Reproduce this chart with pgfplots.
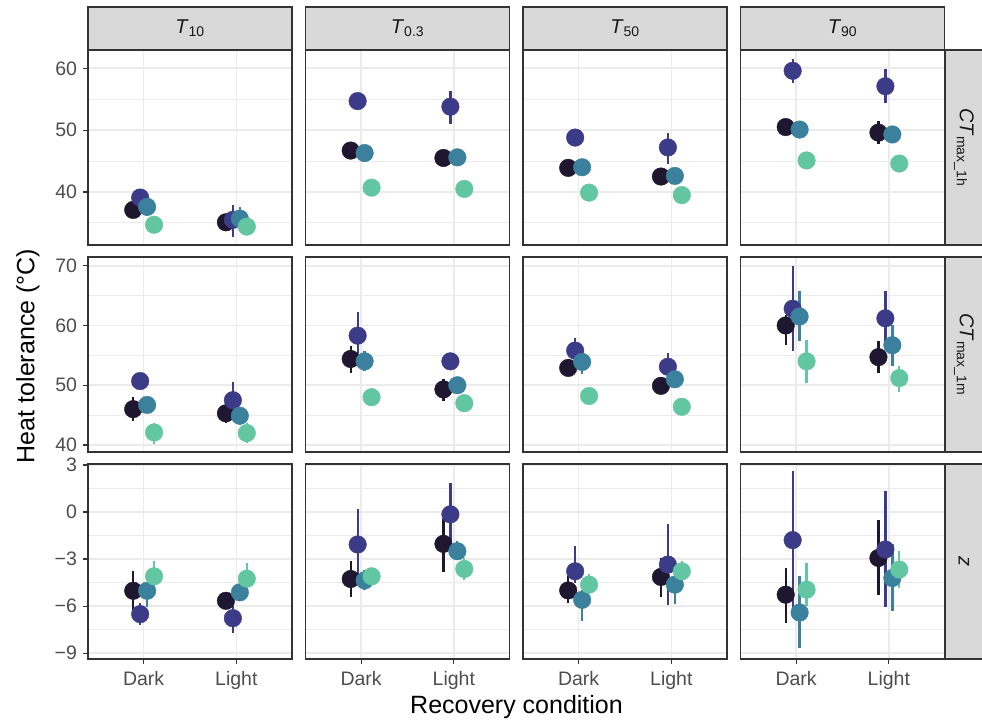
\documentclass[border=0pt]{standalone}
\usepackage{pgfplots}
\usepackage{pgfplotstable}
\usepackage{fontspec}
\pgfplotsset{compat=1.18}
\setmainfont{Liberation Sans}

\definecolor{g1}{HTML}{1F1630}
\definecolor{g2}{HTML}{3C3B87}
\definecolor{g3}{HTML}{3B819D}
\definecolor{g4}{HTML}{62C6A2}
\definecolor{frame}{HTML}{333333}
\definecolor{gridc}{HTML}{EBEBEB}
\definecolor{tickc}{HTML}{4D4D4D}
\definecolor{stripc}{HTML}{D9D9D9}

% columns: c = condition (1 Dark, 2 Light); for each group k: yk = estimate, lk/hk = interval
% row A: CT_max_1h
\pgfplotstableread{
c  y1    l1    h1    y2    l2    h2    y3    l3    h3    y4    l4    h4
1  37.1  36.6  37.6  39.1  38.6  39.7  37.6  36.1  38.2  34.7  34.4  35.0
2  35.1  34.7  35.5  35.5  32.8  37.9  35.7  34.5  37.5  34.4  34.1  34.7
}\tAa
\pgfplotstableread{
c  y1    l1    h1    y2    l2    h2    y3    l3    h3    y4    l4    h4
1  46.7  46.2  47.2  54.7  54.2  55.2  46.3  45.9  46.8  40.7  40.4  41.0
2  45.5  44.4  46.1  53.8  51.0  56.4  45.6  45.2  46.0  40.5  40.2  40.8
}\tAb
\pgfplotstableread{
c  y1    l1    h1    y2    l2    h2    y3    l3    h3    y4    l4    h4
1  43.9  43.5  44.3  48.8  48.4  49.2  44.0  43.6  44.4  39.9  39.6  40.2
2  42.5  41.9  43.1  47.2  44.5  49.6  42.6  42.2  43.0  39.5  39.2  39.8
}\tAc
\pgfplotstableread{
c  y1    l1    h1    y2    l2    h2    y3    l3    h3    y4    l4    h4
1  50.5  50.0  51.0  59.6  57.7  61.5  50.1  49.7  50.5  45.1  44.8  45.4
2  49.6  47.7  51.5  57.1  54.4  59.9  49.3  48.9  49.7  44.6  44.3  44.9
}\tAd
% row B: CT_max_1m
\pgfplotstableread{
c  y1    l1    h1    y2    l2    h2    y3    l3    h3    y4    l4    h4
1  46.0  44.0  48.0  50.7  50.2  51.2  46.7  46.2  47.2  42.1  40.2  43.7
2  45.3  43.7  46.9  47.5  45.8  50.6  44.9  43.4  46.2  42.0  40.4  43.6
}\tBa
\pgfplotstableread{
c  y1    l1    h1    y2    l2    h2    y3    l3    h3    y4    l4    h4
1  54.4  52.1  56.5  58.3  54.1  62.3  54.0  52.4  55.8  48.0  47.6  48.4
2  49.3  47.4  51.1  54.0  53.6  54.4  50.0  49.6  50.4  47.0  46.6  47.4
}\tBb
\pgfplotstableread{
c  y1    l1    h1    y2    l2    h2    y3    l3    h3    y4    l4    h4
1  52.9  52.5  53.3  55.8  54.5  57.9  53.9  51.9  55.0  48.2  47.8  48.6
2  49.9  49.5  50.3  53.1  51.5  55.4  51.0  49.8  52.0  46.4  46.0  46.8
}\tBc
\pgfplotstableread{
c  y1    l1    h1    y2    l2    h2    y3    l3    h3    y4    l4    h4
1  60.0  56.8  61.7  62.8  55.8  69.9  61.5  57.4  65.7  54.0  50.4  57.5
2  54.7  52.1  57.4  61.2  57.0  65.7  56.7  53.3  60.0  51.2  48.9  53.3
}\tBd
% row C: z
\pgfplotstableread{
c  y1     l1     h1     y2     l2     h2     y3     l3     h3     y4     l4     h4
1  -5.02  -6.24  -3.78  -6.51  -7.20  -5.80  -5.02  -6.06  -4.50  -4.10  -4.74  -3.14
2  -5.66  -6.00  -5.30  -6.77  -7.73  -6.00  -5.12  -5.60  -4.70  -4.25  -4.70  -3.25
}\tCa
\pgfplotstableread{
c  y1     l1     h1     y2     l2     h2     y3     l3     h3     y4     l4     h4
1  -4.27  -5.42  -3.14  -2.07  -4.50   0.21  -4.36  -4.95  -3.67  -4.10  -4.50  -3.70
2  -2.03  -3.82  -0.47  -0.15  -2.30   1.88  -2.50  -3.03  -1.82  -3.63  -4.31  -2.93
}\tCb
\pgfplotstableread{
c  y1     l1     h1     y2     l2     h2     y3     l3     h3     y4     l4     h4
1  -5.00  -5.80  -4.10  -3.78  -4.50  -2.18  -5.60  -6.94  -5.00  -4.63  -5.10  -3.95
2  -4.14  -5.42  -2.93  -3.35  -5.92  -0.79  -4.63  -5.85  -4.00  -3.78  -4.85  -3.14
}\tCc
\pgfplotstableread{
c  y1     l1     h1     y2     l2     h2     y3     l3     h3     y4     l4     h4
1  -5.27  -7.05  -3.57  -1.79  -6.30   2.63  -6.41  -8.69  -4.06  -4.95  -6.00  -3.25
2  -2.93  -5.27  -0.51  -2.39  -6.06   1.35  -4.21  -6.34  -2.07  -3.67  -4.85  -2.50
}\tCd

% intervals first, then the points on top; groups dodged around each condition
\newcommand{\pts}[1]{%
  \pgfplotsinvokeforeach{1,2,3,4}{%
    \addplot[draw=none, mark=none,
      error bars/.cd, y dir=both, y explicit, error mark=none,
      error bar style={draw=g##1, line width=2.3pt}]
      table[x expr=\thisrow{c}+0.075*(##1-2.5), y=y##1,
            y error plus expr=\thisrow{h##1}-\thisrow{y##1},
            y error minus expr=\thisrow{y##1}-\thisrow{l##1}]{#1};
  }%
  \pgfplotsinvokeforeach{1,2,3,4}{%
    \addplot[only marks, mark=*, mark size=8.8pt, color=g##1, mark options={draw=none, fill=g##1}]
      table[x expr=\thisrow{c}+0.075*(##1-2.5), y=y##1]{#1};
  }%
}

\pgfplotsset{
  panel/.style={
    scale only axis, width=204pt, height=195pt, anchor=south west,
    xmin=0.4, xmax=2.6, xtick={1,2}, xticklabels={Dark,Light},
    xmajorgrids, ymajorgrids, yminorgrids,
    major grid style={draw=gridc, line width=1.7pt},
    minor grid style={draw=gridc, line width=0.9pt},
    axis line style={draw=frame, line width=1.4pt},
    tick style={draw=frame, line width=1.2pt},
    tick align=outside, major tick length=5pt, minor tick length=0pt,
    xtick pos=bottom, ytick pos=left,
    ticklabel style={font=\fontsize{19.5}{20}\selectfont, text=tickc},
    xticklabel style={yshift=-4pt},
    yticklabel style={xshift=-2.5pt},
    /pgf/number format/assume math mode=true,
    clip=false,
  },
  rowA/.style={ymin=31.43, ymax=62.96, ytick={40,50,60}, yticklabels={40,50,60}, minor ytick={35,45,55}},
  rowB/.style={ymin=38.83, ymax=71.46, ytick={40,50,60,70}, yticklabels={40,50,60,70}, minor ytick={45,55,65}},
  rowC/.style={ymin=-9.37, ymax=3.06, ytick={-9,-6,-3,0,3}, yticklabels={−9,−6,−3,0,3}, minor ytick={-7.5,-4.5,-1.5,1.5}},
  innery/.style={yticklabels={}, ytick style={draw=none}},
  innerx/.style={xticklabels={}, xtick style={draw=none}},
}

\begin{document}
\begin{tikzpicture}
% row A
\begin{axis}[panel, rowA, innerx, at={(88pt,478pt)}] \pts{\tAa} \end{axis}
\begin{axis}[panel, rowA, innerx, innery, at={(305.5pt,478pt)}] \pts{\tAb} \end{axis}
\begin{axis}[panel, rowA, innerx, innery, at={(523pt,478pt)}] \pts{\tAc} \end{axis}
\begin{axis}[panel, rowA, innerx, innery, at={(740.5pt,478pt)}] \pts{\tAd} \end{axis}
% row B
\begin{axis}[panel, rowB, innerx, at={(88pt,271pt)}] \pts{\tBa} \end{axis}
\begin{axis}[panel, rowB, innerx, innery, at={(305.5pt,271pt)}] \pts{\tBb} \end{axis}
\begin{axis}[panel, rowB, innerx, innery, at={(523pt,271pt)}] \pts{\tBc} \end{axis}
\begin{axis}[panel, rowB, innerx, innery, at={(740.5pt,271pt)}] \pts{\tBd} \end{axis}
% row C
\begin{axis}[panel, rowC, at={(88pt,64pt)}] \pts{\tCa} \end{axis}
\begin{axis}[panel, rowC, innery, at={(305.5pt,64pt)}] \pts{\tCb} \end{axis}
\begin{axis}[panel, rowC, innery, at={(523pt,64pt)}] \pts{\tCc} \end{axis}
\begin{axis}[panel, rowC, innery, at={(740.5pt,64pt)}] \pts{\tCd} \end{axis}

% facet strips, top
\foreach \xl/\lab in {88/{\textit{T}\textsubscript{10}}, 305.5/{\textit{T}\textsubscript{0.3}},
                      523/{\textit{T}\textsubscript{50}}, 740.5/{\textit{T}\textsubscript{90}}}{
  \draw[fill=stripc, draw=frame, line width=1.4pt] (\xl pt,673pt) rectangle ++(204pt,43pt);
  \node[font=\fontsize{20}{22}\selectfont, text=black!90] at ([xshift=102pt]\xl pt,694.5pt) {\lab};
}
% facet strips, right
\foreach \yb/\lab in {478/{\textit{CT}\textsubscript{max\_1h}}, 271/{\textit{CT}\textsubscript{max\_1m}}, 64/{\textit{z}}}{
  \draw[fill=stripc, draw=frame, line width=1.4pt] (945.5pt,\yb pt) rectangle ++(45pt,195pt);
  \node[rotate=-90, font=\fontsize{20}{22}\selectfont, text=black!90] at (964pt,\yb pt+97.5pt) {\lab};
}

% axis titles
\node[rotate=90, font=\fontsize{25}{27}\selectfont] at (28pt,367pt) {Heat tolerance (°C)};
\node[anchor=base, font=\fontsize{25}{27}\selectfont] at (516.5pt,10pt) {Recovery condition};

\pgfresetboundingbox
\path (0pt,0pt) rectangle (982pt,723pt);
\end{tikzpicture}
\end{document}
